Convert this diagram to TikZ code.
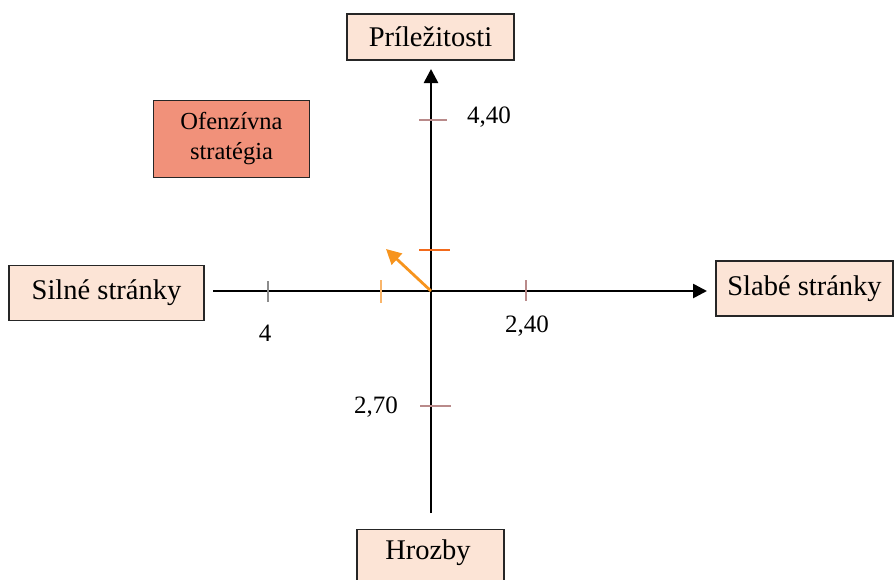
\documentclass[tikz,border=0pt]{standalone}
\usepackage{fontspec}
\setmainfont{Liberation Serif}
\usetikzlibrary{arrows.meta}
\definecolor{peach}{HTML}{FCE4D6}
\definecolor{salmon}{HTML}{F1917A}
\definecolor{arrowor}{HTML}{F7941D}
\definecolor{tickor}{HTML}{F26A1B}
\definecolor{ticklo}{HTML}{F9B56A}
\definecolor{tickbr}{HTML}{B98A8A}
\definecolor{tickgr}{HTML}{8C8C8C}
\tikzset{
  box/.style={draw=black!85, line width=1.1pt, fill=peach, inner sep=0pt, font=\fontsize{28.5}{32}\selectfont},
  axis/.style={line width=2.6pt, -{Triangle[length=14pt,width=14pt]}},
  lab/.style={font=\fontsize{25}{28}\selectfont, inner sep=0pt},
  tick/.style={line width=1.3pt}
}
\begin{document}
\begin{tikzpicture}[x=1pt,y=-1pt]
\useasboundingbox (0,0) rectangle (894,579);
\begin{scope}
\clip (0,0) rectangle (894,579);
% boxes
\node[box, minimum width=167pt, minimum height=46pt] (opp) at (430.5,37) {Príležitosti};
\node[box, fill=salmon, minimum width=156pt, minimum height=77pt, align=center, font=\fontsize{24.5}{30}\selectfont] (ofs) at (231.5,139) {Ofenzívna\\stratégia};
\node[box, minimum width=195pt, minimum height=55pt] (str) at (106.5,293) {Silné stránky};
\node[box, minimum width=177pt, minimum height=55pt] (wea) at (804.5,288.5) {Slabé stránky};
\node[box, minimum width=147pt, minimum height=62pt, anchor=north] (thr) at (430.5,529) {};
\node[font=\fontsize{28.5}{32}\selectfont, inner sep=0pt] (thrt) at (428,553) {Hrozby};
\end{scope}
% axes
\coordinate (O) at (431,291);
\coordinate (L) at (213,291);
\coordinate (R) at (707,291);
\coordinate (T) at (431,69);
\coordinate (B) at (431,513);
\draw[axis] (L) -- (R);
\draw[axis] (B) -- (T);
% ticks
\coordinate (t1a) at (268,281); \coordinate (t1b) at (268,302);
\coordinate (t2a) at (526,280); \coordinate (t2b) at (526,301);
\coordinate (t3a) at (381,280); \coordinate (t3b) at (381,303);
\coordinate (t4a) at (419,120); \coordinate (t4b) at (447,120);
\coordinate (t5a) at (419,250); \coordinate (t5b) at (450,250);
\coordinate (t6a) at (420,406); \coordinate (t6b) at (451,406);
\draw[tick, draw=tickgr] (t1a) -- (t1b);
\draw[tick, draw=tickbr] (t2a) -- (t2b);
\draw[tick, draw=ticklo] (t3a) -- (t3b);
\draw[tick, draw=tickbr] (t4a) -- (t4b);
\draw[tick, draw=tickor] (t5a) -- (t5b);
\draw[tick, draw=tickbr] (t6a) -- (t6b);
% vector
\coordinate (V) at (386,249);
\draw[line width=2.8pt, draw=arrowor, -{Triangle[length=15pt,width=15pt]}] (O) -- (V);
% labels
\node[lab] (l1) at (489,117) {4,40};
\node[lab] (l2) at (265,333) {4};
\node[lab] (l3) at (527,326) {2,40};
\node[lab] (l4) at (376,407) {2,70};
\end{tikzpicture}
\end{document}
